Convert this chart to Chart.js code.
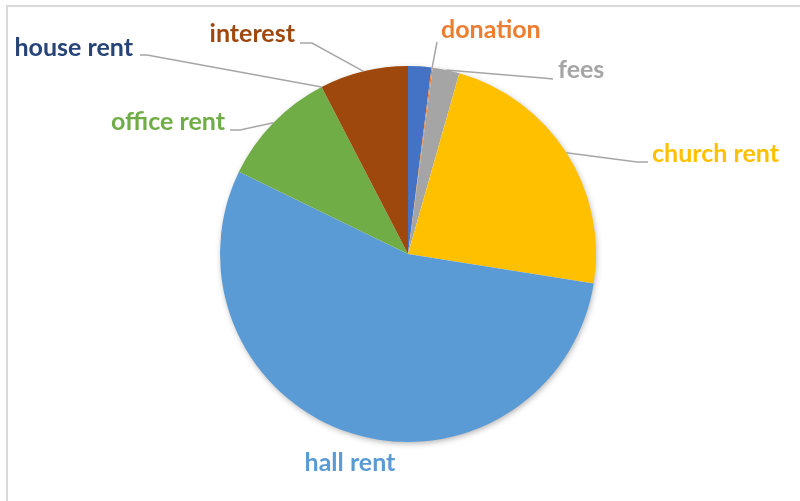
<!DOCTYPE html>
<html>
<head>
<meta charset="utf-8">
<script src="https://cdn.jsdelivr.net/npm/chart.js@4.4.1/dist/chart.umd.min.js"></script>
<style>
    html, body { margin: 0; padding: 0; background: #ffffff; }
    #wrap { width: 800px; height: 501px; position: relative; }
</style>
</head>
<body>
<div id="wrap"><canvas id="incomeChart" width="800" height="501"></canvas></div>
<script>
// income by source (share of total, %)
const categories = ["", "donation", "fees", "church rent", "hall rent", "office rent", "house rent", "interest"];
const shares = [2.0, 0.1, 2.3, 23.1, 54.7, 10.2, 0, 7.6];
const sliceColors = ["#4472C4", "#ED7D31", "#A5A5A5", "#FFC000", "#5B9BD5", "#70AD47", "#264478", "#9E480E"];

// where each label sits and the bend of its leader line (text baseline)
const labelPlaces = [
    null,
    { x: 441, y: 38, align: "left", line: [[437, 42]] },
    { x: 558, y: 78, align: "left", line: [[553, 79], [543, 78]] },
    { x: 652, y: 162, align: "left", line: [[648, 162], [637, 162]] },
    { x: 350, y: 471, align: "center", line: null },
    { x: 225, y: 130, align: "right", line: [[230, 130], [240, 130]] },
    { x: 133, y: 56, align: "right", line: [[140, 55], [147, 55]] },
    { x: 295, y: 42, align: "right", line: [[300, 43], [312, 43]] }
];

const outsideLabels = {
    id: "outsideLabels",
    beforeDraw(chart) {
        const ctx = chart.ctx;
        ctx.save();
        ctx.fillStyle = "#D9D9D9";
        ctx.fillRect(6, 5, 2, chart.height - 5);
        ctx.fillRect(6, 5, chart.width - 6, 2);
        ctx.restore();
    },
    beforeDatasetsDraw(chart) {
        // soft shadow under the pie
        const arc = chart.getDatasetMeta(0).data[0];
        const ctx = chart.ctx;
        ctx.save();
        ctx.shadowColor = "rgba(0, 0, 0, 0.35)";
        ctx.shadowBlur = 6;
        ctx.shadowOffsetX = 1;
        ctx.shadowOffsetY = 2;
        ctx.fillStyle = "#ffffff";
        ctx.beginPath();
        ctx.arc(arc.x, arc.y, arc.outerRadius - 1, 0, Math.PI * 2);
        ctx.fill();
        ctx.restore();
    },
    afterDatasetsDraw(chart) {
        const ctx = chart.ctx;
        const meta = chart.getDatasetMeta(0);
        ctx.save();
        categories.forEach((text, i) => {
            const p = labelPlaces[i];
            if (!p) return;
            const arc = meta.data[i];
            const mid = (arc.startAngle + arc.endAngle) / 2;
            const ex = arc.x + Math.cos(mid) * arc.outerRadius;
            const ey = arc.y + Math.sin(mid) * arc.outerRadius;
            if (p.line) {
                ctx.strokeStyle = "#A6A6A6";
                ctx.lineWidth = 1.5;
                ctx.beginPath();
                ctx.moveTo(p.line[0][0], p.line[0][1]);
                p.line.slice(1).forEach(pt => ctx.lineTo(pt[0], pt[1]));
                ctx.lineTo(ex, ey);
                ctx.stroke();
            }
            ctx.font = "bold 25px Lato";
            ctx.fillStyle = sliceColors[i];
            ctx.textAlign = p.align;
            ctx.textBaseline = "alphabetic";
            ctx.fillText(text, p.x, p.y);
        });
        ctx.restore();
    }
};

const incomeCtx = document.getElementById("incomeChart").getContext("2d");
const incomeChart = new Chart(incomeCtx, {
    type: "pie",
    data: {
        labels: categories,
        datasets: [
            {
                data: shares,
                backgroundColor: sliceColors,
                borderWidth: 0,
            },
        ],
    },
    options: {
        responsive: false,
        animation: false,
        layout: {
            padding: { top: 66, bottom: 59, left: 220, right: 204 }
        },
        plugins: {
            legend: { display: false },
            tooltip: { enabled: false },
            title: { display: false }
        }
    },
    plugins: [outsideLabels]
});
</script>
</body>
</html>
